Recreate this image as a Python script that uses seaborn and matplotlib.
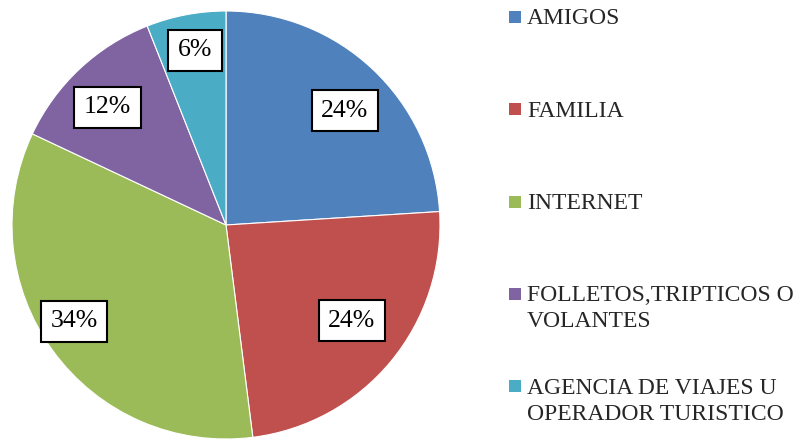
import numpy as np
import seaborn as sns
import matplotlib.pyplot as plt
from matplotlib.patches import Rectangle

categories = ['AMIGOS', 'FAMILIA', 'INTERNET',
              'FOLLETOS,TRIPTICOS O\nVOLANTES',
              'AGENCIA DE VIAJES U\nOPERADOR TURISTICO']
shares = [24, 24, 34, 12, 6]
colors = ['#4F81BD', '#C0504D', '#9BBB59', '#8064A2', '#4BACC6']
# where each percentage box sits: fraction of radius, angle nudge (deg)
label_dist = [0.77, 0.74, 0.84, 0.78, 0.83]
label_nudge = [-3, 2.3, -3.6, 2, -0.8]

sns.set_theme(style='white')
plt.rcParams['font.family'] = ['Liberation Serif', 'DejaVu Serif']

W, H = 802, 440
fig = plt.figure(figsize=(W / 100, H / 100), dpi=100)
ax = fig.add_axes([12 / W, 1 / H, 428 / W, 428 / H])

wedges, texts, autotexts = ax.pie(
    shares, colors=colors, startangle=90, counterclock=False,
    autopct='%.0f%%', pctdistance=0.8,
    wedgeprops=dict(edgecolor='white', linewidth=0.8),
    textprops=dict(fontsize=18.5, color='black'))

for w, t, d, n in zip(wedges, autotexts, label_dist, label_nudge):
    ang = np.deg2rad((w.theta1 + w.theta2) / 2 + n)
    t.set_position((d * np.cos(ang), d * np.sin(ang)))
    t.set_bbox(dict(boxstyle='square,pad=0.37', facecolor='white',
                    edgecolor='black', linewidth=1.5))

ax.set_xlim(-1, 1)
ax.set_ylim(-1, 1)
ax.set_aspect('equal')

# legend on the right, one entry every ~92 px, marker beside first line
for i, (lab, c) in enumerate(zip(categories, colors)):
    yc = 17 + 92.3 * i
    fig.add_artist(Rectangle((509 / W, 1 - (yc + 6) / H), 12 / W, 12 / H,
                             transform=fig.transFigure, color=c, lw=0))
    for j, line in enumerate(lab.split('\n')):
        fig.text(527 / W, 1 - (yc + 7.5 + 26 * j) / H, line, fontsize=17,
                 va='baseline', ha='left')

fig.savefig('out.png', dpi=100)
